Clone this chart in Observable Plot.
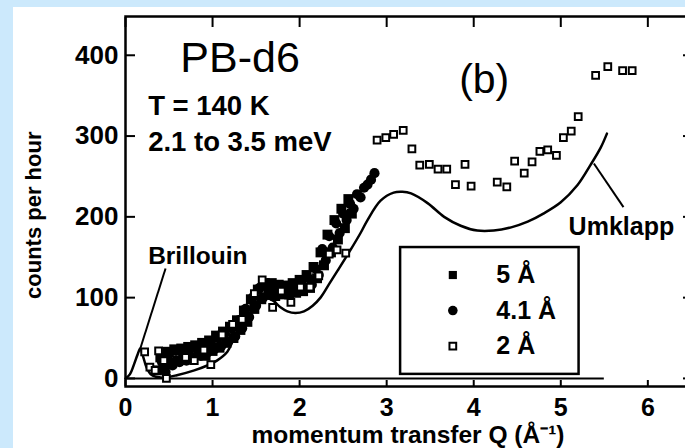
<!DOCTYPE html>
<html><head><meta charset="utf-8">
<script src="https://cdn.jsdelivr.net/npm/d3@7"></script>
<script src="https://cdn.jsdelivr.net/npm/@observablehq/plot@0.6"></script>
<style>
html,body{margin:0;padding:0;background:#cce9fc;overflow:hidden;width:685px;height:448px;}
#chart{position:absolute;left:13px;top:7px;width:680px;}
#chart svg{max-width:none !important;}
</style></head><body><div id="chart"></div>
<script>
// Model curve (solid line)
const modelQ = [0,0.05,0.10,0.14,0.17,0.20,0.24,0.29,0.35,0.44,0.59,0.79,0.94,1.05,1.17,1.24,1.32,1.40,1.48,1.55,1.63,1.70,1.78,1.86,1.95,2.05,2.15,2.24,2.34,2.44,2.59,2.70,2.78,2.93,3.08,3.18,3.28,3.47,3.66,3.85,4.04,4.23,4.43,4.62,4.80,5.00,5.19,5.34,5.46,5.53];
const modelCounts = [0,5,18,30,37,28,14,5,2,1,4,10,16,22,33,48,63,76,88,95,99,96,88,83,81,83,90,100,117,134,160,180,196,220,230,231,229,217,200,189,183,183,187,194,204,218,239,264,286,303];

// 5 Å (filled squares)
const q5 = [0.36,0.40,0.44,0.48,0.52,0.56,0.60,0.64,0.68,0.72,0.76,0.80,0.84,0.88,0.92,0.96,1.00,1.04,1.08,1.12,1.16,1.20,1.24,1.28,1.32,1.36,1.40,1.44,1.48,1.52,1.56,1.60,1.64,1.68,1.72,1.76,1.80,1.84,1.88,1.92,1.96,2.00,2.04,2.08,2.12,2.16,2.20,2.24,2.28,2.32,2.36,2.40,2.44,2.48,2.52,2.56,2.60];
const c5 = [10,26,14,33,20,36,22,37,26,39,24,41,30,44,28,47,34,53,38,58,44,64,50,72,60,84,70,98,86,110,98,118,104,118,102,116,104,115,104,118,106,122,108,128,112,138,124,156,140,178,156,196,172,210,186,222,204];

// 4.1 Å (filled circles)
const q41 = [0.42,0.46,0.50,0.54,0.58,0.62,0.66,0.70,0.74,0.78,0.82,0.86,0.90,0.94,0.98,1.02,1.06,1.10,1.14,1.18,1.22,1.26,1.30,1.34,1.38,1.42,1.46,1.50,1.54,1.58,1.62,1.66,1.70,1.74,1.78,1.82,1.86,1.90,1.94,1.98,2.02,2.06,2.10,2.14,2.18,2.22,2.26,2.30,2.34,2.38,2.42,2.46,2.50,2.54,2.58,2.62,2.66,2.70,2.74,2.78,2.82,2.86];
const c41 = [20,8,30,16,34,20,30,22,36,26,38,28,40,32,44,36,50,40,56,46,62,52,72,62,86,76,100,90,112,100,114,106,112,104,110,106,112,106,114,108,118,112,124,116,136,128,160,146,176,162,192,180,204,196,216,210,228,224,236,240,246,254];

// 2 Å (open squares)
const q2 = [0.22,0.28,0.34,0.38,0.44,0.47,0.69,0.79,0.90,0.98,1.11,1.23,1.34,1.48,1.57,1.69,1.79,1.90,2.01,2.12,2.22,2.34,2.43,2.53,2.89,2.99,3.08,3.19,3.29,3.38,3.49,3.59,3.69,3.79,3.90,3.97,4.27,4.38,4.47,4.58,4.67,4.76,4.85,4.95,5.03,5.12,5.20,5.40,5.54,5.71,5.82];
const c2 = [33,14,10,34,22,0,26,22,35,17,54,67,73,105,122,88,108,94,113,113,127,154,159,155,295,298,302,307,284,264,265,259,259,240,265,238,243,237,269,254,268,281,283,276,298,306,324,375,386,381,381];

const xTicks = [0,1,2,3,4,5,6];
const yTicks = [0,100,200,300,400];
const legendLabels = ["5 Å","4.1 Å","2 Å"];

const toRows = (qs, cs) => qs.map((q,i)=>({q, c:cs[i]}));
const model = toRows(modelQ, modelCounts);
const s5 = toRows(q5, c5);
const s41 = toRows(q41, c41);
const s2 = toRows(q2, c2);

const font = "'Liberation Sans', Arial, Helvetica, sans-serif";
const legX = 3.76, legTextX = 4.26, legY0 = 128, legGap = 44;

const chart = Plot.plot({
  width: 680, height: 441,
  marginLeft: 112, marginTop: 9, marginRight: 3, marginBottom: 62,
  x: {domain: [0, 6.49]},
  y: {domain: [-10, 448]},
  style: {background: "white", fontFamily: font, color: "black", maxWidth: "none"},
  marks: [
    Plot.ruleY([0], {x1: 0, x2: 5.5, stroke: "black", strokeWidth: 2}),
    Plot.axisY({anchor: "left", ticks: yTicks, tickFormat: d => d, tickSize: -10, tickPadding: 17, fontSize: 26, fontWeight: "bold", label: null, strokeWidth: 2}),
    Plot.axisY({anchor: "right", ticks: yTicks, tickSize: -8, tickFormat: () => "", label: null, strokeWidth: 2}),
    Plot.axisX({anchor: "bottom", ticks: xTicks, tickFormat: d => d, tickSize: -6, tickPadding: 18, fontSize: 25, fontWeight: "bold", label: null, strokeWidth: 2}),
    Plot.axisX({anchor: "top", ticks: xTicks, tickSize: -10, tickFormat: () => "", label: null, strokeWidth: 2}),
    Plot.line(model, {x: "q", y: "c", stroke: "black", strokeWidth: 2.5, curve: "catmull-rom"}),
    Plot.dot(s5, {x: "q", y: "c", symbol: "square", r: 5.6, fill: "black"}),
    Plot.dot(s41, {x: "q", y: "c", symbol: "circle", r: 5.1, fill: "black"}),
    Plot.dot(s2, {x: "q", y: "c", symbol: "square", r: 3.8, fill: "white", stroke: "black", strokeWidth: 2}),
    // annotations
    Plot.text(["PB-d6"], {x: 0.63, y: 379, textAnchor: "start", lineAnchor: "bottom", fontSize: 43}),
    Plot.text(["T = 140 K"], {x: 0.26, y: 326, textAnchor: "start", lineAnchor: "bottom", fontSize: 27.5, fontWeight: "bold"}),
    Plot.text(["2.1 to 3.5 meV"], {x: 0.26, y: 282, textAnchor: "start", lineAnchor: "bottom", fontSize: 27.5, fontWeight: "bold"}),
    Plot.text(["(b)"], {x: 4.12, y: 353, textAnchor: "middle", lineAnchor: "bottom", fontSize: 41}),
    Plot.text(["Brillouin"], {x: 0.26, y: 142, textAnchor: "start", lineAnchor: "bottom", fontSize: 24.5, fontWeight: "bold"}),
    Plot.link([0], {x1: 0.46, y1: 136, x2: 0.17, y2: 37, stroke: "black", strokeWidth: 2}),
    Plot.text(["Umklapp"], {x: 5.09, y: 177, textAnchor: "start", lineAnchor: "bottom", fontSize: 25, fontWeight: "bold"}),
    Plot.link([0], {x1: 5.72, y1: 212, x2: 5.38, y2: 266, stroke: "black", strokeWidth: 2}),
    // legend
    Plot.rect([0], {x1: 3.16, x2: 5.21, y1: 5, y2: 162, fill: "white", stroke: "black", strokeWidth: 2.5}),
    Plot.dot([0], {x: legX, y: legY0, symbol: "square", r: 4.6, fill: "black"}),
    Plot.dot([0], {x: legX, y: legY0 - legGap, symbol: "circle", r: 4.8, fill: "black"}),
    Plot.dot([0], {x: legX, y: legY0 - 2 * legGap, symbol: "square", r: 3.8, fill: "white", stroke: "black", strokeWidth: 2}),
    Plot.text(legendLabels, {x: legTextX, y: (d, i) => legY0 - i * legGap, text: d => d, textAnchor: "start", fontSize: 25, fontWeight: "bold"}),
    // axis titles
    Plot.text(["momentum transfer Q (Å⁻¹)"], {frameAnchor: "bottom", dy: 56, lineAnchor: "bottom", fontSize: 24.5, fontWeight: "bold"}),
    Plot.text(["counts per hour"], {y: [202], frameAnchor: "left", textAnchor: "middle", dx: -92, rotate: -90, fontSize: 22, fontWeight: "bold"}),
    Plot.frame({stroke: "black", strokeWidth: 2.5})
  ]
});
document.getElementById("chart").appendChild(chart);
</script>
</body></html>
